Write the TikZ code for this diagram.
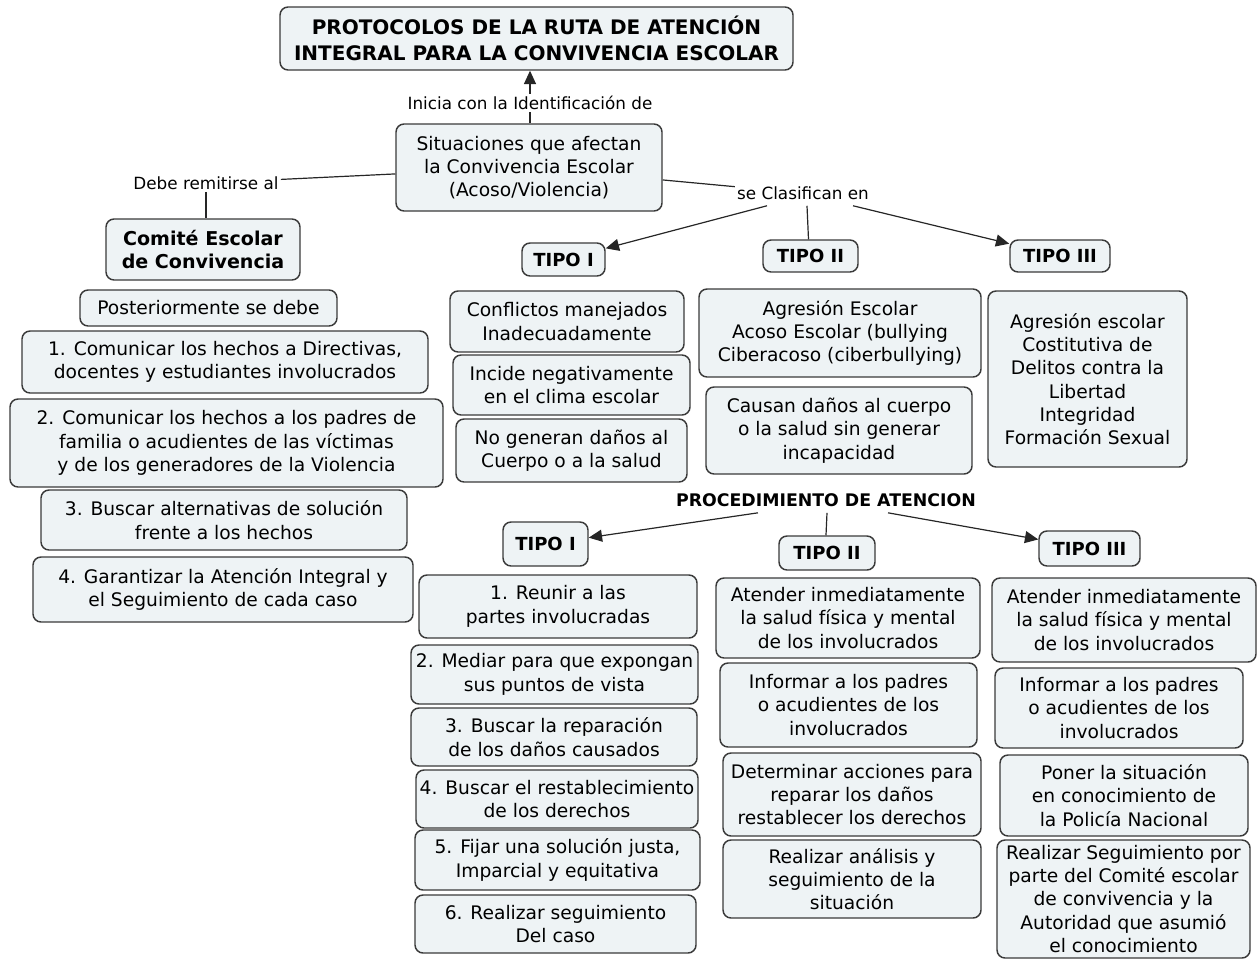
\documentclass[tikz,border=0pt]{standalone}
\usepackage{fontspec}
\setmainfont{DejaVu Sans}
\usetikzlibrary{arrows.meta,calc}
\definecolor{boxfill}{HTML}{EEF3F5}
\definecolor{boxline}{HTML}{3A3A3A}
\tikzset{
  bx/.style={draw=boxline, fill=boxfill, line width=1.1pt, rounded corners=6pt,
    inner sep=0pt, align=center, font=\fontsize{14}{17.5}\selectfont},
  boldtxt/.style={font=\bfseries\fontsize{14.3}{17.5}\selectfont},
  tipotxt/.style={font=\bfseries\fontsize{13.5}{16}\selectfont},
  lbl/.style={inner sep=1.5pt, align=center, font=\fontsize{12.6}{15}\selectfont},
  conn/.style={draw=black!85, line width=0.9pt},
  arr/.style={conn, -{Triangle[length=10pt,width=9pt]}},
}
% #1 options, #2 name, #3 left, #4 top, #5 right, #6 bottom, #7 text
\newcommand\mybox[7][]{%
  \node[bx, minimum width={(#5-#3)*0.75pt}, minimum height={(#6-#4)*0.75pt}, #1]
    (#2) at ({(#3+#5)/2},{(#4+#6)/2}) {#7};}
\begin{document}
\begin{tikzpicture}[x=0.75pt,y=-0.75pt]
\useasboundingbox (0,0) rectangle (1258,960);

% title and central node
\mybox[font=\bfseries\fontsize{15}{19}\selectfont]{title}{280}{7}{793}{70}{PROTOCOLOS DE LA RUTA DE ATENCIÓN\\INTEGRAL PARA LA CONVIVENCIA ESCOLAR}
\node[lbl] (lab1) at (530,103) {Inicia con la Identificación de};
\mybox{sit}{396}{124}{662}{211}{Situaciones que afectan\\la Convivencia Escolar\\(Acoso/Violencia)}

% left branch
\node[lbl] (lab2) at (206,183) {Debe remitirse al};
\mybox[boldtxt]{comite}{106}{219}{300}{280}{Comité Escolar\\de Convivencia}
\mybox{post}{80}{290}{337}{326}{Posteriormente se debe}
\mybox{c1}{22}{331}{428}{393}{1. Comunicar los hechos a Directivas,\\docentes y estudiantes involucrados}
\mybox{c2}{10}{399}{443}{487}{2. Comunicar los hechos a los padres de\\familia o acudientes de las víctimas\\y de los generadores de la Violencia}
\mybox{c3}{41}{490}{407}{550}{3. Buscar alternativas de solución\\frente a los hechos}
\mybox{c4}{33}{557}{413}{622}{4. Garantizar la Atención Integral y\\el Seguimiento de cada caso}

% classification
\node[lbl] (lab3) at (803,193) {se Clasifican en};
\mybox[tipotxt]{ta1}{522}{243}{605}{276}{TIPO I}
\mybox[tipotxt]{ta2}{763}{240}{858}{272}{TIPO II}
\mybox[tipotxt]{ta3}{1010}{240}{1110}{272}{TIPO III}

\mybox{d11}{450}{291}{684}{352}{Conflictos manejados\\Inadecuadamente}
\mybox{d12}{453}{355}{690}{415}{Incide negativamente\\en el clima escolar}
\mybox{d13}{456}{419}{687}{482}{No generan daños al\\Cuerpo o a la salud}
\mybox{d21}{699}{289}{981}{377}{Agresión Escolar\\Acoso Escolar (bullying\\Ciberacoso (ciberbullying)}
\mybox{d22}{706}{387}{972}{474}{Causan daños al cuerpo\\o la salud sin generar\\incapacidad}
\mybox{d31}{988}{291}{1187}{467}{Agresión escolar\\Costitutiva de\\Delitos contra la\\Libertad\\Integridad\\Formación Sexual}

% procedure
\node[lbl, font=\bfseries\fontsize{13}{15}\selectfont] (proc) at (826,500) {PROCEDIMIENTO DE ATENCION};
\mybox[tipotxt]{tb1}{503}{522}{588}{566}{TIPO I}
\mybox[tipotxt]{tb2}{779}{536}{875}{570}{TIPO II}
\mybox[tipotxt]{tb3}{1039}{531}{1140}{566}{TIPO III}

\mybox{p11}{419}{575}{697}{638}{1. Reunir a las\\partes involucradas}
\mybox{p12}{411}{645}{698}{704}{2. Mediar para que expongan\\sus puntos de vista}
\mybox{p13}{411}{708}{697}{766}{3. Buscar la reparación\\de los daños causados}
\mybox{p14}{416}{770}{698}{828}{4. Buscar el restablecimiento\\de los derechos}
\mybox{p15}{415}{830}{700}{890}{5. Fijar una solución justa,\\Imparcial y equitativa}
\mybox{p16}{415}{895}{696}{953}{6. Realizar seguimiento\\Del caso}

\mybox{p21}{716}{578}{980}{658}{Atender inmediatamente\\la salud física y mental\\de los involucrados}
\mybox{p22}{720}{663}{977}{747}{Informar a los padres\\o acudientes de los\\involucrados}
\mybox{p23}{723}{753}{981}{836}{Determinar acciones para\\reparar los daños\\restablecer los derechos}
\mybox{p24}{723}{840}{981}{918}{Realizar análisis y\\seguimiento de la\\situación}

\mybox{p31}{992}{578}{1256}{662}{Atender inmediatamente\\la salud física y mental\\de los involucrados}
\mybox{p32}{995}{668}{1243}{748}{Informar a los padres\\o acudientes de los\\involucrados}
\mybox{p33}{1000}{755}{1248}{836}{Poner la situación\\en conocimiento de\\la Policía Nacional}
\mybox{p34}{997}{840}{1250}{958}{Realizar Seguimiento por\\parte del Comité escolar\\de convivencia y la\\Autoridad que asumió\\el conocimiento}

% connectors
\draw[conn] (sit.north -| lab1.south) -- (lab1.south);
\draw[arr] (lab1.north) -- (lab1.north |- title.south);
\draw[conn] (sit) -- (lab2);
\draw[conn] (lab2.south) -- (lab2.south |- comite.north);
\draw[conn] (sit) -- (lab3);
\draw[arr] ($(lab3.south)+(-36,4)$) -- (ta1);
\draw[conn] ($(lab3.south)+(4,4)$) -- ($(ta2.north)+(-2,0)$);
\draw[arr] ($(lab3.south)+(50,4)$) -- (ta3);
\draw[arr] ($(proc.south)+(-68,4)$) -- (tb1);
\draw[conn] ($(proc.south)+(1,4)$) -- (tb2.north -| proc.south);
\draw[arr] ($(proc.south)+(62,4)$) -- (tb3);
\end{tikzpicture}
\end{document}
